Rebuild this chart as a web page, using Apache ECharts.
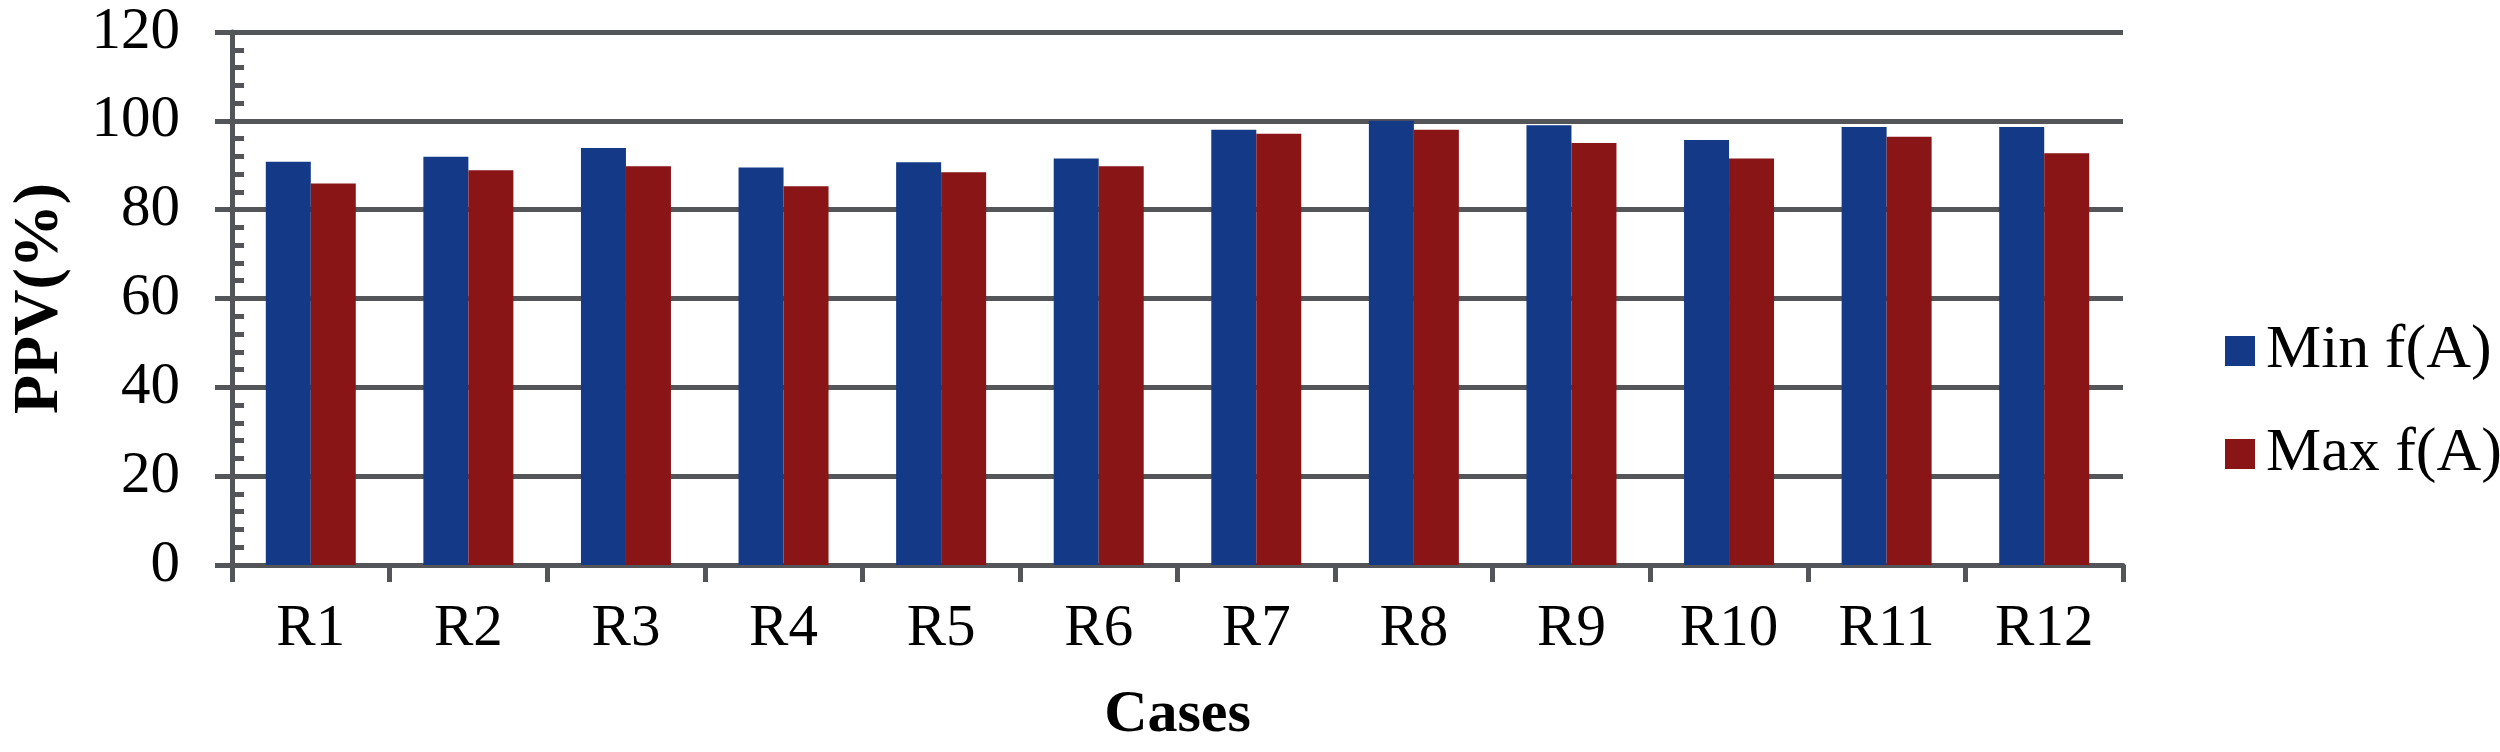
<!DOCTYPE html>
<html>
<head>
<meta charset="utf-8">
<script src="https://cdn.jsdelivr.net/npm/echarts@6/dist/echarts.min.js"></script>
<style>
html,body{margin:0;padding:0;background:#fff;}
#chart{width:2500px;height:752px;}
</style>
</head>
<body>
<div id="chart"></div>
<script>
const categories = ['R1','R2','R3','R4','R5','R6','R7','R8','R9','R10','R11','R12'];
const minFA = [90.8, 91.9, 93.9, 89.5, 90.7, 91.5, 98.0, 100.0, 99.0, 95.7, 98.6, 98.6];
const maxFA = [85.9, 88.9, 89.8, 85.3, 88.4, 89.8, 97.1, 98.0, 95.0, 91.5, 96.4, 92.7];
const seriesNames = ['Min f(A)', 'Max f(A)'];
const yTicks = {min: 0, max: 120, interval: 20};

const AX = '#545558';
const FONT = '"Liberation Serif", "Times New Roman", serif';

const chart = echarts.init(document.getElementById('chart'), null, {renderer: 'canvas'});
chart.setOption({
  backgroundColor: '#ffffff',
  animation: false,
  grid: {left: 229, right: 377, top: 32, bottom: 187, containLabel: false},
  legend: {
    orient: 'vertical',
    left: 2220,
    top: 315,
    itemWidth: 30,
    itemHeight: 30,
    itemGap: 41,
    icon: 'rect',
    data: seriesNames,
    textStyle: {fontFamily: FONT, fontSize: 62, color: '#000', padding: [0, 0, 0, 6]}
  },
  xAxis: {
    type: 'category',
    data: categories,
    name: 'Cases',
    nameLocation: 'middle',
    nameGap: 120,
    nameTextStyle: {fontFamily: FONT, fontSize: 60, fontWeight: 'bold', color: '#000'},
    axisLine: {show: true, lineStyle: {color: AX, width: 5}},
    axisTick: {show: true, length: 17, lineStyle: {color: AX, width: 5}},
    axisLabel: {fontFamily: FONT, fontSize: 59, color: '#000', margin: 35},
    splitLine: {show: false}
  },
  yAxis: [{
    type: 'value',
    min: yTicks.min, max: yTicks.max, interval: yTicks.interval,
    name: 'PPV(%)',
    nameLocation: 'middle',
    nameGap: 160,
    nameRotate: 90,
    nameTextStyle: {fontFamily: FONT, fontSize: 64, fontWeight: 'bold', color: '#000'},
    axisLine: {show: true, lineStyle: {color: AX, width: 5}},
    axisTick: {show: true, length: 17, lineStyle: {color: AX, width: 5}},
    axisLabel: {fontFamily: FONT, fontSize: 59, color: '#000', margin: 52},
    splitLine: {show: true, lineStyle: {color: AX, width: 5}}
  }, {
    type: 'value',
    position: 'left',
    offset: 0,
    min: yTicks.min, max: yTicks.max, interval: yTicks.interval,
    axisLine: {show: false},
    axisLabel: {show: false},
    axisTick: {show: false, inside: true},
    minorTick: {show: true, splitNumber: 5, length: 12, lineStyle: {color: AX, width: 5}},
    splitLine: {show: false}
  }],
  series: [{
    name: seriesNames[0],
    type: 'bar',
    data: minFA,
    barWidth: 45,
    barGap: '0%',
    itemStyle: {color: '#143A87'}
  }, {
    name: seriesNames[1],
    type: 'bar',
    data: maxFA,
    barWidth: 45,
    barGap: '0%',
    itemStyle: {color: '#8A1516'}
  }]
});
</script>
</body>
</html>
